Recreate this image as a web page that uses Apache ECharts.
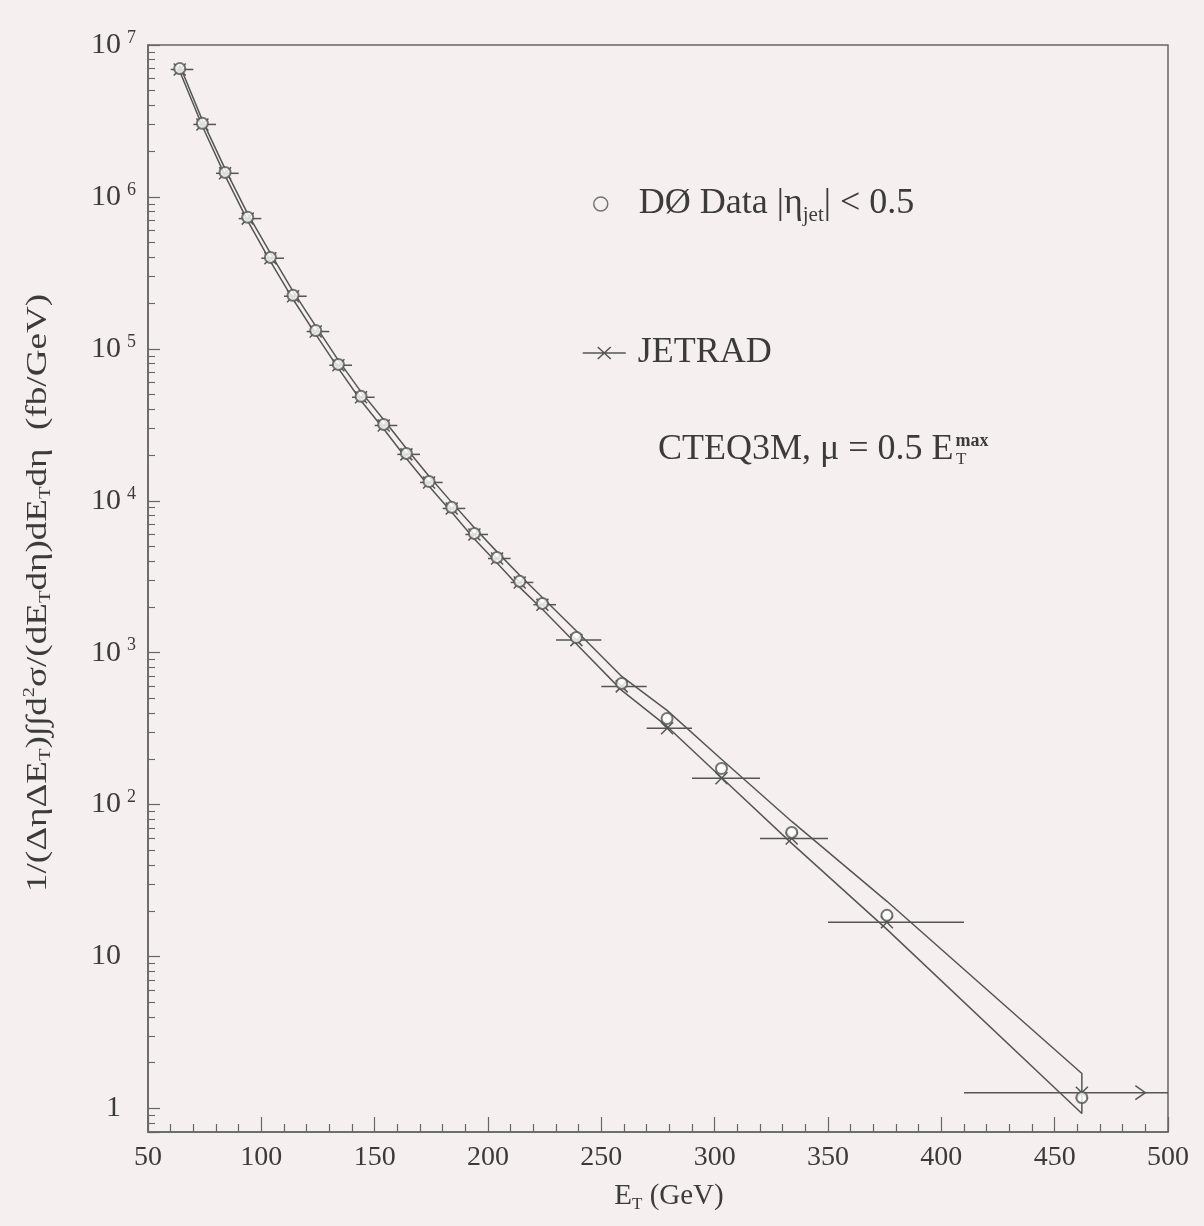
<!DOCTYPE html>
<html lang="en">
<head>
    <meta charset="utf-8" />
    <title>Inclusive jet cross section</title>
    <script src="https://cdn.jsdelivr.net/npm/echarts@6/dist/echarts.min.js"></script>
    <style>
        html, body { margin: 0; padding: 0; background: #f5f0ef; }
    </style>
</head>
<body>
    <div id="box" style="width:1204px;height:1226px;"></div>
    <script>
        // E_T of each point (GeV)
        var etCenters = [64, 74, 84, 94, 104, 114, 124, 134, 144, 154, 164, 174, 184, 194, 204, 214, 224, 239, 259, 279, 303, 334, 376, 462];
        // DØ data, fb/GeV
        var d0Data = [7.0e6, 3.05e6, 1.45e6, 7.35e5, 4.0e5, 2.25e5, 1.32e5, 7.9e4, 4.87e4, 3.18e4, 2.05e4, 1.34e4, 9.05e3, 6.1e3, 4.24e3, 2.95e3, 2.11e3, 1.26e3, 628, 369, 173, 65.6, 18.7, 1.18];
        // JETRAD prediction and its bins
        var jetrad = [6.9e6, 3.0e6, 1.43e6, 7.2e5, 3.95e5, 2.22e5, 1.3e5, 7.8e4, 4.8e4, 3.13e4, 2.02e4, 1.32e4, 8.9e3, 6.0e3, 4.17e3, 2.9e3, 2.07e3, 1.21e3, 600, 318, 149, 59.9, 16.8, 1.27];
        var binLo = [60, 70, 80, 90, 100, 110, 120, 130, 140, 150, 160, 170, 180, 190, 200, 210, 220, 230, 250, 270, 290, 320, 350, 410];
        var binHi = [70, 80, 90, 100, 110, 120, 130, 140, 150, 160, 170, 180, 190, 200, 210, 220, 230, 250, 270, 290, 320, 350, 410, 560];
        var arrowAt = 490;
        // error band edges
        var bandUpper = [7.35e6, 3.19e6, 1.53e6, 7.74e5, 4.26e5, 2.39e5, 1.41e5, 8.4e4, 5.21e4, 3.41e4, 2.21e4, 1.45e4, 9.76e3, 6.64e3, 4.61e3, 3.23e3, 2.31e3, 1.39e3, 698, 417, 199, 77.5, 23.1, 1.70];
        var bandLower = [6.71e6, 2.92e6, 1.38e6, 6.96e5, 3.77e5, 2.12e5, 1.245e5, 7.44e4, 4.55e4, 2.97e4, 1.90e4, 1.245e4, 8.39e3, 5.61e3, 3.90e3, 2.69e3, 1.93e3, 1.14e3, 565, 327, 151, 55.6, 15.1, 0.927];
        var xTicks = [50, 500, 50];   // min, max, step
        var yRange = [0.7, 1e7];
        var minorMult = [2, 3, 4, 5, 6, 7, 8, 9];

        var ink = '#3c3a3a';
        var font = 'Liberation Serif';

        // band as one closed outline
        var band = [];
        for (var i = 0; i < etCenters.length; i++) band.push([etCenters[i], bandUpper[i]]);
        for (var j = etCenters.length - 1; j >= 0; j--) band.push([etCenters[j], bandLower[j]]);
        band.push([etCenters[0], bandUpper[0]]);

        var dataPts = etCenters.map(function (e, k) { return [e, d0Data[k]]; });
        var jetPts = etCenters.map(function (e, k) { return [binLo[k], binHi[k], e, jetrad[k]]; });

        // log minor ticks, on a helper axis in log10 units
        var minorTicks = [];
        for (var d = -1; d < 7; d++) {
            minorMult.forEach(function (m) {
                var v = m * Math.pow(10, d);
                if (v > yRange[0] && v < yRange[1]) minorTicks.push(Math.log10(v));
            });
        }

        var myChart = echarts.init(document.getElementById('box'));
        var option = {
            backgroundColor: '#f5f0ef',
            animation: false,
            textStyle: { fontFamily: font, color: ink },
            grid: {
                left: 148, right: 36, top: 45, bottom: 94,
                show: true, borderColor: '#666', borderWidth: 1.5,
                backgroundColor: 'transparent',
                outerBoundsMode: 'none'
            },
            title: {
                left: 653, top: 423,
                text: '{t|CTEQ3M, μ = 0.5 E}{p|max}',
                textStyle: {
                    rich: {
                        t: { fontFamily: font, fontSize: 36, color: ink, lineHeight: 44, fontWeight: 'normal' },
                        p: { fontFamily: font, fontSize: 18, color: ink, lineHeight: 18, verticalAlign: 'top', padding: [4, 0, 0, 2] }
                    }
                }
            },
            graphic: [{
                type: 'text', left: 956, top: 451,
                style: { text: 'T', fill: ink, font: '17px "Liberation Serif"' }
            }, {
                // y axis title, stretched along its length like the scanned original
                type: 'text',
                x: 38, y: 593,
                rotation: Math.PI / 2,
                scaleX: 1.28, scaleY: 1,
                style: {
                    text: '{t|1/(ΔηΔE}{s|T}{t|)∫∫d}{p|2}{t|σ/(dE}{s|T}{t|dη)dE}{s|T}{t|dη  (fb/GeV)}',
                    align: 'center', verticalAlign: 'middle',
                    rich: {
                        t: { fontFamily: font, fontSize: 29, fill: ink, lineHeight: 32 },
                        s: { fontFamily: font, fontSize: 16, fill: ink, lineHeight: 16, verticalAlign: 'bottom' },
                        p: { fontFamily: font, fontSize: 16, fill: ink, lineHeight: 16, verticalAlign: 'top' }
                    }
                }
            }],
            legend: [{
                left: 588, top: 181,
                itemWidth: 14, itemHeight: 14,
                data: [{ name: 'DØ Data', icon: 'circle', itemStyle: { color: 'transparent', borderColor: '#555', borderWidth: 1.5 } }],
                formatter: function () { return '{g|DØ Data |η}{s|jet}{t|| < 0.5}'; },
                textStyle: {
                    rich: {
                        g: { fontFamily: font, fontSize: 36, color: ink, lineHeight: 44, padding: [0, 0, 0, 26] },
                        t: { fontFamily: font, fontSize: 36, color: ink, lineHeight: 44 },
                        s: { fontFamily: font, fontSize: 21, color: ink, lineHeight: 21, verticalAlign: 'bottom' }
                    }
                }
            }, {
                left: 577, top: 330,
                itemWidth: 43, itemHeight: 12,
                data: [{ name: 'JETRAD', icon: 'path://M0,6H43M15,0L28,12M28,0L15,12', itemStyle: { color: 'transparent', borderColor: '#555', borderWidth: 1.5 } }],
                formatter: function () { return '{t|JETRAD}'; },
                textStyle: {
                    rich: { t: { fontFamily: font, fontSize: 36, color: ink, lineHeight: 44, padding: [0, 0, 0, 7] } }
                }
            }],
            xAxis: {
                type: 'value',
                min: xTicks[0], max: xTicks[1], interval: xTicks[2],
                name: '{t|E}{s|T}{t| (GeV)}',
                nameLocation: 'middle', nameGap: 47,
                nameTextStyle: {
                    padding: [0, 0, 0, 22],
                    rich: {
                        t: { fontFamily: font, fontSize: 29, color: ink, lineHeight: 34 },
                        s: { fontFamily: font, fontSize: 17, color: ink, lineHeight: 17, verticalAlign: 'bottom' }
                    }
                },
                axisLine: { onZero: false, lineStyle: { color: '#666', width: 1.5 } },
                axisTick: { inside: true, length: 15, lineStyle: { color: '#666', width: 1.2 } },
                minorTick: { show: true, splitNumber: 5, length: 8, lineStyle: { color: '#666', width: 1.2 } },
                axisLabel: { fontFamily: font, fontSize: 28, color: ink, margin: 12 },
                splitLine: { show: false }
            },
            yAxis: [{
                type: 'log', logBase: 10,
                min: yRange[0], max: yRange[1],
                axisLine: { lineStyle: { color: '#666', width: 1.5 } },
                axisTick: { inside: true, length: 12, lineStyle: { color: '#666', width: 1.2 } },
                axisLabel: {
                    margin: 12,
                    formatter: function (v) {
                        var n = Math.round(Math.log10(v));
                        if (Math.abs(Math.log10(v) - n) > 1e-6) return '';
                        if (n === 0) return '{r|1}';
                        if (n === 1) return '{r|10}';
                        return '{b|10}{p|' + n + '}';
                    },
                    rich: {
                        b: { fontFamily: font, fontSize: 30, color: ink, lineHeight: 32 },
                        r: { fontFamily: font, fontSize: 30, color: ink, lineHeight: 32, padding: [0, 15, 0, 0] },
                        p: { fontFamily: font, fontSize: 18, color: ink, lineHeight: 18, verticalAlign: 'top', padding: [0, 0, 0, 6] }
                    }
                },
                splitLine: { show: false }
            }, {
                // helper axis carrying only the log minor ticks
                type: 'value',
                position: 'left',
                min: Math.log10(yRange[0]), max: Math.log10(yRange[1]),
                axisLine: { show: false, onZero: false },
                axisLabel: { show: false },
                axisTick: { show: true, inside: true, length: 7, customValues: minorTicks, lineStyle: { color: '#666', width: 1.1 } },
                splitLine: { show: false }
            }],
            series: [{
                name: 'band',
                type: 'line',
                data: band,
                showSymbol: false,
                lineStyle: { color: '#555', width: 1.5 },
                z: 1
            }, {
                name: 'JETRAD',
                type: 'custom',
                data: jetPts,
                encode: { x: [0, 1, 2], y: 3 },
                renderItem: function (params, api) {
                    var xmax = xTicks[1];
                    var hi = api.value(1);
                    var y = api.value(3);
                    var a = api.coord([api.value(0), y]);
                    var b = api.coord([Math.min(hi, xmax), y]);
                    var c = api.coord([api.value(2), y]);
                    var s = 6;
                    var st = { stroke: '#555', lineWidth: 1.5, fill: 'none' };
                    var kids = [
                        { type: 'line', shape: { x1: a[0], y1: a[1], x2: b[0], y2: b[1] }, style: st },
                        { type: 'line', shape: { x1: c[0] - s, y1: c[1] - s, x2: c[0] + s, y2: c[1] + s }, style: st },
                        { type: 'line', shape: { x1: c[0] - s, y1: c[1] + s, x2: c[0] + s, y2: c[1] - s }, style: st }
                    ];
                    if (hi > xmax) {
                        var t = api.coord([arrowAt, y]);
                        kids.push({ type: 'polyline', shape: { points: [[t[0] - 10, t[1] - 7], t, [t[0] - 10, t[1] + 7]] }, style: st });
                    }
                    return { type: 'group', children: kids };
                },
                z: 3
            }, {
                name: 'DØ Data',
                type: 'scatter',
                data: dataPts,
                symbol: 'emptyCircle',
                symbolSize: 11,
                itemStyle: { color: '#555', borderColor: '#555', borderWidth: 1.5 },
                z: 4
            }]
        };
        myChart.setOption(option);
    </script>
</body>
</html>
